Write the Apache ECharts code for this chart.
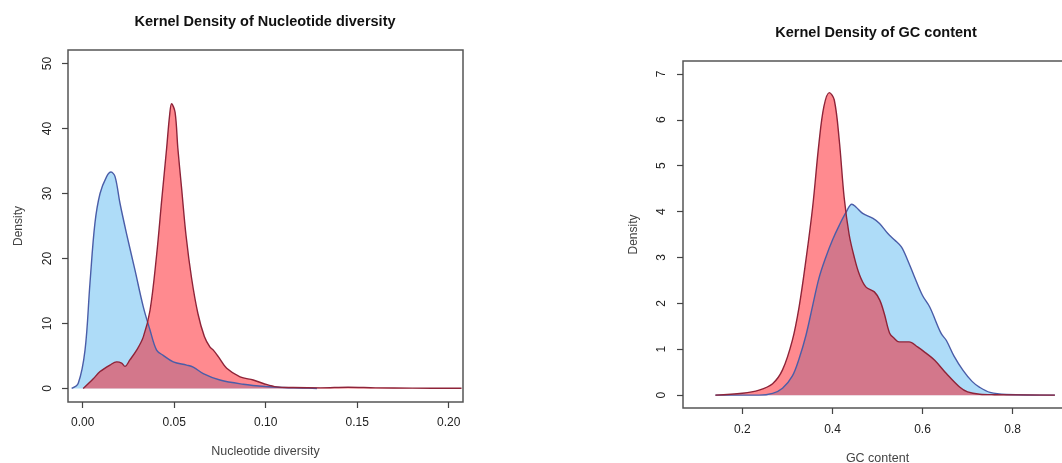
<!DOCTYPE html>
<html>
<head>
<meta charset="utf-8">
<script src="https://cdn.jsdelivr.net/npm/echarts@6/dist/echarts.min.js"></script>
<style>
html,body{margin:0;padding:0;background:#fff;}
#chart{width:1062px;height:463px;}
</style>
</head>
<body>
<div id="chart"></div>
<script>
// ---- Left panel: Nucleotide diversity ----
const ndBlueX = [-0.006, -0.0024, 0.0013, 0.004, 0.0067, 0.0095, 0.0131, 0.0155, 0.0177, 0.0204, 0.024, 0.0286, 0.0331, 0.0368, 0.0404, 0.044, 0.0495, 0.0568, 0.0604, 0.0659, 0.075, 0.0877, 0.1, 0.11, 0.12, 0.128];
const ndBlueY = [0, 0.8, 5.9, 16.2, 25.4, 30, 32.6, 33.3, 32.6, 28.5, 23.8, 18.2, 12.6, 9.0, 5.9, 5.1, 4.1, 3.6, 3.3, 2.3, 1.3, 0.66, 0.3, 0.15, 0.08, 0];
const ndRedX = [0.0003, 0.0058, 0.0095, 0.0149, 0.0186, 0.0213, 0.0231, 0.0258, 0.0295, 0.0331, 0.0368, 0.0404, 0.0432, 0.0459, 0.0475, 0.0486, 0.0505, 0.052, 0.054, 0.0565, 0.0595, 0.063, 0.0665, 0.0695, 0.0714, 0.0741, 0.0787, 0.086, 0.0932, 0.0987, 0.106, 0.115, 0.13, 0.145, 0.16, 0.18, 0.207];
const ndRedY = [0, 1.5, 2.6, 3.6, 4.1, 3.9, 3.4, 4.4, 5.9, 7.9, 12.0, 20.5, 29, 37, 42, 43.8, 42.5, 37, 31, 23.5, 17, 11.5, 8, 6.4, 5.9, 4.9, 3.1, 1.8, 1.3, 0.77, 0.25, 0.15, 0.1, 0.2, 0.1, 0.05, 0.03];
const ndXTicks = [0, 0.05, 0.10, 0.15, 0.20];
const ndYTicks = [0, 10, 20, 30, 40, 50];

// ---- Right panel: GC content ----
const gcBlueX = [0.14, 0.237, 0.267, 0.289, 0.311, 0.326, 0.341, 0.356, 0.370, 0.385, 0.40, 0.415, 0.430, 0.443, 0.452, 0.467, 0.49, 0.5045, 0.523, 0.538, 0.553, 0.567, 0.582, 0.60, 0.616, 0.641, 0.653, 0.67, 0.69, 0.71, 0.727, 0.75, 0.786, 0.894];
const gcBlueY = [0, 0, 0.04, 0.15, 0.42, 0.8, 1.3, 1.95, 2.55, 3.0, 3.38, 3.7, 3.98, 4.16, 4.1, 3.96, 3.85, 3.74, 3.52, 3.38, 3.23, 2.94, 2.58, 2.17, 1.92, 1.35, 1.19, 0.85, 0.54, 0.3, 0.17, 0.06, 0.015, 0];
const gcRedX = [0.14, 0.2, 0.237, 0.267, 0.289, 0.311, 0.326, 0.341, 0.356, 0.370, 0.381, 0.393, 0.404, 0.415, 0.426, 0.437, 0.448, 0.459, 0.474, 0.493, 0.505, 0.515, 0.527, 0.537, 0.548, 0.570, 0.589, 0.607, 0.627, 0.653, 0.683, 0.70, 0.727, 0.76, 0.894];
const gcRedY = [0, 0.04, 0.11, 0.25, 0.55, 1.2, 1.93, 2.94, 4.1, 5.49, 6.29, 6.59, 6.43, 5.56, 4.3, 3.5, 3.02, 2.65, 2.36, 2.25, 2.07, 1.78, 1.35, 1.24, 1.16, 1.16, 1.05, 0.92, 0.76, 0.47, 0.17, 0.07, 0.02, 0.01, 0];
const gcXTicks = [0.2, 0.4, 0.6, 0.8];
const gcYTicks = [0, 1, 2, 3, 4, 5, 6, 7];

const titles = ['Kernel Density of Nucleotide diversity', 'Kernel Density of GC content'];
const xNames = ['Nucleotide diversity', 'GC content'];
const yName = 'Density';

const FONT = '"Liberation Sans", Arial, Helvetica, sans-serif';
const pairs = (xs, ys) => xs.map((x, i) => [x, ys[i]]);

const BLUE_FILL = '#AEDCF8';
const BLUE_LINE = '#4A5DA8';
const RED_FILL = 'rgba(255,0,10,0.46)';
const RED_LINE = '#8E2338';

function xAxisCfg(idx, min, max, ticks, name, digits, margin, gap) {
  return {
    type: 'value', gridIndex: idx, min: min, max: max, position: 'bottom',
    name: name, nameLocation: 'middle', nameGap: gap,
    nameTextStyle: {fontFamily: FONT, fontSize: 12.5, color: '#444'},
    axisLine: {show: false, onZero: false},
    axisTick: {show: true, inside: false, length: 6, customValues: ticks, lineStyle: {color: '#444', width: 1.2}},
    axisLabel: {show: true, customValues: ticks, margin: margin, fontFamily: FONT, fontSize: 12, color: '#222',
      formatter: v => Number(v).toFixed(digits)},
    splitLine: {show: false}
  };
}
function yAxisCfg(idx, min, max, ticks, margin, gap) {
  return {
    type: 'value', gridIndex: idx, min: min, max: max, position: 'left',
    name: yName, nameLocation: 'middle', nameGap: gap, nameRotate: 90,
    nameTextStyle: {fontFamily: FONT, fontSize: 12, color: '#444'},
    axisLine: {show: false, onZero: false},
    axisTick: {show: true, inside: false, length: 6, customValues: ticks, lineStyle: {color: '#444', width: 1.2}},
    axisLabel: {show: true, customValues: ticks, rotate: 90, margin: margin, fontFamily: FONT, fontSize: 12, color: '#222',
      formatter: v => String(Math.round(v))},
    splitLine: {show: false}
  };
}
function areaSeries(name, xi, yi, data, fill, line) {
  return {
    name: name, type: 'line', xAxisIndex: xi, yAxisIndex: yi,
    data: data, smooth: 0.35, showSymbol: false, symbol: 'none',
    lineStyle: {color: line, width: 1.4},
    areaStyle: {color: fill, opacity: 1},
    silent: true, animation: false
  };
}

const chart = echarts.init(document.getElementById('chart'), null, {renderer: 'canvas'});
chart.setOption({
  backgroundColor: '#ffffff',
  animation: false,
  title: [
    {text: titles[0], left: 265, top: 14, textAlign: 'center', padding: 0,
     textStyle: {fontFamily: FONT, fontSize: 14.5, fontWeight: 'bold', color: '#111'}},
    {text: titles[1], left: 876, top: 25, textAlign: 'center', padding: 0,
     textStyle: {fontFamily: FONT, fontSize: 14.5, fontWeight: 'bold', color: '#111'}}
  ],
  grid: [
    {left: 68, top: 50, width: 395, height: 352, show: true, borderColor: '#555', borderWidth: 1.5, backgroundColor: 'transparent', containLabel: false, outerBoundsMode: 'none'},
    {left: 683, top: 61, width: 389, height: 347, show: true, borderColor: '#555', borderWidth: 1.5, backgroundColor: 'transparent', containLabel: false, outerBoundsMode: 'none'}
  ],
  xAxis: [
    xAxisCfg(0, -0.008, 0.2078, ndXTicks, xNames[0], 2, 15, 43),
    xAxisCfg(1, 0.068, 0.932, gcXTicks, xNames[1], 1, 16, 44)
  ],
  yAxis: [
    yAxisCfg(0, -2.08, 52.08, ndYTicks, 14, 43),
    yAxisCfg(1, -0.28, 7.28, gcYTicks, 15, 43)
  ],
  series: [
    areaSeries('nd-blue', 0, 0, pairs(ndBlueX, ndBlueY), BLUE_FILL, BLUE_LINE),
    areaSeries('nd-red', 0, 0, pairs(ndRedX, ndRedY), RED_FILL, RED_LINE),
    areaSeries('gc-blue', 1, 1, pairs(gcBlueX, gcBlueY), BLUE_FILL, BLUE_LINE),
    areaSeries('gc-red', 1, 1, pairs(gcRedX, gcRedY), RED_FILL, RED_LINE)
  ]
});
</script>
</body>
</html>
